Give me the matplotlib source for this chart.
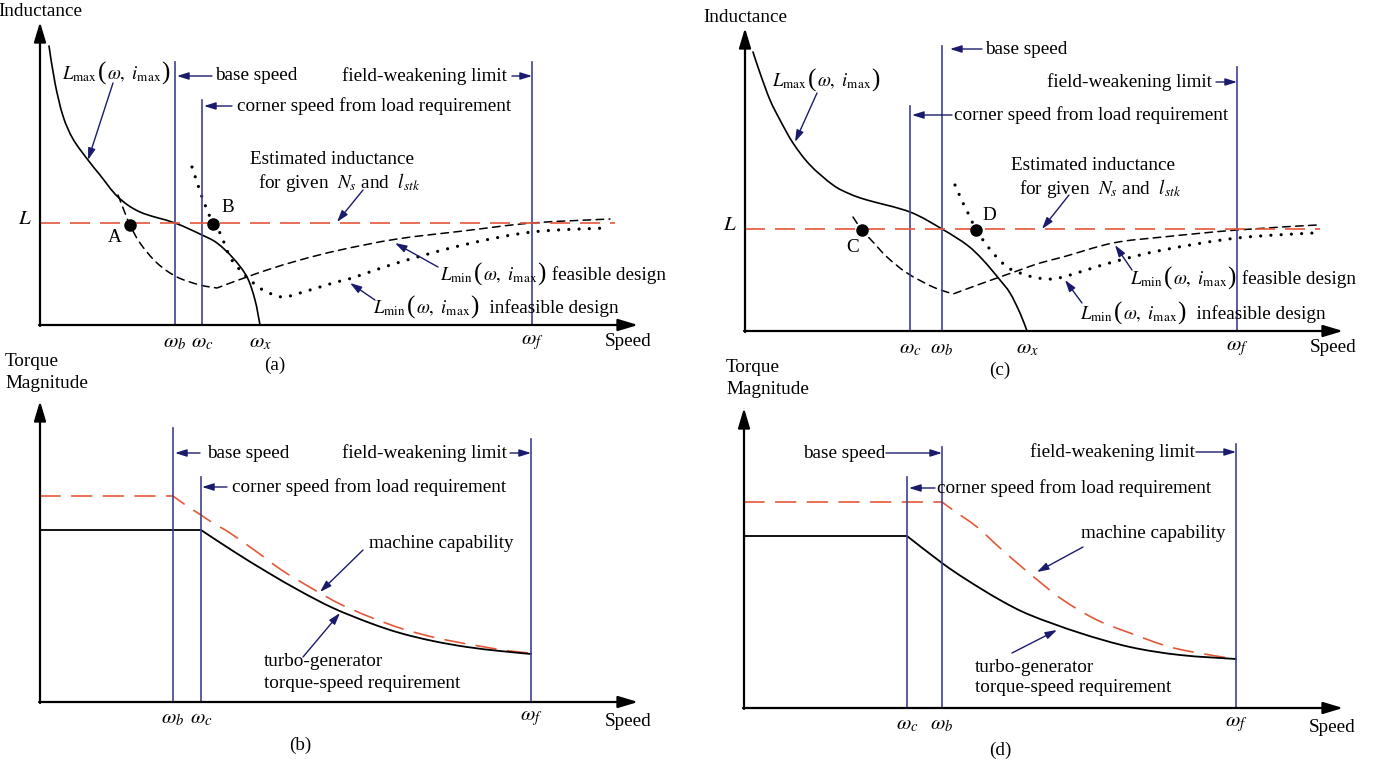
import matplotlib
matplotlib.use("Agg")
import numpy as np
import matplotlib.pyplot as plt
from matplotlib.path import Path
from matplotlib.patches import PathPatch
from matplotlib.offsetbox import TextArea, HPacker, AnnotationBbox

plt.rcParams['font.family'] = ['Liberation Serif', 'DejaVu Serif']
plt.rcParams['mathtext.fontset'] = 'stix'

NAVY = '#1b1b6e'
VLINE = '#3f3f90'
RED = '#e4583a'
FS = 13.8

# ---------- panel (a): inductance, feasible/infeasible (wb < wc) ----------
a_ticks = [135, 162, 220, 492]
a_tick_labels = [r'$\omega_b$', r'$\omega_c$', r'$\omega_x$', r'$\omega_f$']
a_vlines = [135, 162, 492]
a_vtops = [263, 225, 263]
a_L = 102
a_lmax_x = [9, 15, 23, 33, 48, 60, 78, 100, 135, 162, 177, 193, 207, 215, 220]
a_lmax_y = [279, 242, 209, 186, 165, 150, 128, 113, 102, 90, 82, 67, 48, 25, 0]
a_feas_x = [78, 85, 90, 100, 117, 137, 160, 177, 193, 207, 227, 260, 300, 357, 423, 492, 570]
a_feas_y = [130, 112, 100, 82, 62, 48, 40, 37, 43, 48, 55, 65, 75, 86, 94, 102, 106]
a_inf_x = [152, 157, 162, 168, 173, 180, 190, 200, 210, 223, 242, 260, 293, 312, 357, 423, 492, 567]
a_inf_y = [158, 143, 128, 113, 101, 92, 68, 55, 45, 35, 28, 32, 42, 47, 62, 80, 93, 97]
a_pts_x = [90, 173]
a_pts_y = [100, 101]
a_pts_lab = ['A', 'B']

# ---------- panel (c): inductance (wc < wb) ----------
c_ticks = [165, 197, 282, 492]
c_tick_labels = [r'$\omega_c$', r'$\omega_b$', r'$\omega_x$', r'$\omega_f$']
c_vlines = [197, 165, 492]
c_vtops = [285, 225, 264]
c_L = 102
c_lmax_x = [8, 15, 25, 35, 48, 65, 88, 105, 122, 165, 197, 222, 238, 255, 265, 275, 282]
c_lmax_y = [279, 258, 231, 211, 188, 166, 146, 137, 131, 119, 102, 86, 71, 51, 38, 18, 0]
c_feas_x = [108, 117, 128, 142, 162, 188, 208, 238, 272, 295, 318, 368, 418, 492, 572]
c_feas_y = [114, 101, 89, 74, 58, 44, 37, 48, 60, 68, 74, 88, 94, 101, 106]
c_inf_x = [210, 218, 225, 231, 238, 248, 262, 275, 288, 302, 318, 368, 418, 492, 568]
c_inf_y = [146, 128, 114, 101, 91, 78, 64, 58, 54, 52, 54, 69, 81, 93, 98]
c_pts_x = [117, 231]
c_pts_y = [101, 101]
c_pts_lab = ['C', 'D']

# ---------- panel (b): torque (wb < wc) ----------
b_ticks = [133, 161, 491]
b_tick_labels = [r'$\omega_b$', r'$\omega_c$', r'$\omega_f$']
b_vlines = [133, 161, 491]
b_vtops = [274, 225, 263]
b_cap_x = [0, 133, 147, 161, 173, 190, 217, 243, 273, 300, 330, 363, 397, 433, 470, 491]
b_cap_y = [206, 206, 196, 187, 179, 169, 150, 131, 113, 98, 85, 73, 64, 57, 51, 49]
b_req_x = [0, 161, 193, 227, 260, 293, 330, 360, 393, 427, 460, 491]
b_req_y = [172, 172, 151, 130, 111, 94, 79, 69, 61, 55, 51, 48]

# ---------- panel (d): torque (wc < wb) ----------
d_ticks = [163, 198, 492]
d_tick_labels = [r'$\omega_c$', r'$\omega_b$', r'$\omega_f$']
d_vlines = [163, 198, 492]
d_vtops = [231, 261, 264]
d_cap_x = [0, 198, 209, 233, 256, 279, 291, 319, 353, 386, 426, 466, 492]
d_cap_y = [206, 206, 198, 181, 160, 140, 130, 108, 88, 75, 61, 53, 49]
d_req_x = [0, 163, 198, 223, 256, 286, 336, 386, 436, 492]
d_req_y = [172, 172, 145, 128, 108, 93, 75, 61, 53, 49]

W, H = 1380, 766
fig = plt.figure(figsize=(W / 100, H / 100), dpi=100)


def smooth_path(xs, ys, corners=()):
    # Catmull-Rom curve through the read points, broken at sharp corners
    pts = np.column_stack([xs, ys]).astype(float)
    cuts = sorted(set([0, len(pts) - 1, *corners]))
    verts, codes = [pts[0]], [Path.MOVETO]
    for a, b in zip(cuts[:-1], cuts[1:]):
        seg = pts[a:b + 1]
        n = len(seg)
        if n == 2:
            verts.append(seg[1])
            codes.append(Path.LINETO)
            continue
        for i in range(n - 1):
            p0, p1 = seg[max(i - 1, 0)], seg[i]
            p2, p3 = seg[i + 1], seg[min(i + 2, n - 1)]
            verts += [p1 + (p2 - p0) / 6, p2 - (p3 - p1) / 6, p2]
            codes += [Path.CURVE4] * 3
    return Path(verts, codes)


def curve(ax, xs, ys, corners=(), **kw):
    patch = PathPatch(smooth_path(xs, ys, corners), fill=False, capstyle='round',
                      joinstyle='round', clip_on=False, **kw)
    ax.add_patch(patch)


def panel(x0, y0, w, h):
    ax = fig.add_axes([x0 / W, (H - y0) / H, w / W, h / H])
    ax.set_xlim(0, w)
    ax.set_ylim(0, h)
    ax.axis('off')
    arrow = dict(arrowstyle='-|>,head_length=1.0,head_width=0.3', color='k',
                 lw=1.6, mutation_scale=12, shrinkA=0, shrinkB=0)
    ax.annotate('', xy=(0, h), xytext=(0, -1), arrowprops=arrow, annotation_clip=False)
    ax.annotate('', xy=(w, 0), xytext=(-1, 0), arrowprops=arrow, annotation_clip=False)
    return ax


def pointer(ax, tail, head):
    ax.annotate('', xy=head, xytext=tail, annotation_clip=False,
                arrowprops=dict(arrowstyle='-|>,head_length=0.7,head_width=0.22',
                                color=NAVY, lw=1.0, mutation_scale=10,
                                shrinkA=0, shrinkB=0))


def txt(ax, x, y, s, ha='left', size=FS):
    ax.text(x, y, s, ha=ha, va='center', fontsize=size, color='k')


def lfunc(ax, x, y, sub, tail=''):
    # L_sub(omega, i_max) with tall brackets, then optional plain words
    parts = [TextArea(r'$L_{\mathrm{%s}}$' % sub, textprops=dict(fontsize=13.5)),
             TextArea('(', textprops=dict(fontsize=18)),
             TextArea(r'$\omega,\ i_{\mathrm{max}}$', textprops=dict(fontsize=13.5)),
             TextArea(')', textprops=dict(fontsize=18))]
    if tail:
        parts.append(TextArea(tail, textprops=dict(fontsize=FS)))
    box = HPacker(children=parts, align='baseline', pad=0, sep=0.5)
    ab = AnnotationBbox(box, (x, y), xycoords='data', frameon=False,
                        box_alignment=(0, 0.5), pad=0, annotation_clip=False)
    ax.add_artist(ab)


def ticks(ax, pos, labels, ty):
    for p, lab in zip(pos, labels):
        ax.text(p, ty, lab, ha='center', va='center', fontsize=15)


def vlines(ax, xs, tops):
    for x, t in zip(xs, tops):
        ax.plot([x, x], [0, t], color=VLINE, lw=1.2, clip_on=False)


def inductance_panel(ax, d):
    vlines(ax, d['vx'], d['vt'])
    ax.plot([0, 575], [d['L'], d['L']], color=RED, lw=1.2, ls=(0, (12, 6)), clip_on=False)
    curve(ax, d['lmx'], d['lmy'], edgecolor='k', lw=1.2)
    curve(ax, d['fx'], d['fy'], corners=(d['fmin'],), edgecolor='k', lw=1.1,
          ls=(0, (5, 3.5)))
    curve(ax, d['ix'], d['iy'], edgecolor='k', lw=2.3, ls=(0, (0.01, 3.2)))
    ax.plot(d['px'], d['py'], 'o', color='k', ms=8, clip_on=False)
    txt(ax, 0, 313, 'Inductance', ha='center')
    ax.text(-15, d['L'] + 3, r'$L$', ha='center', va='center', fontsize=15)
    ticks(ax, d['tp'], d['tl'], -18)
    txt(ax, 588, -17, 'Speed', ha='center')
    lfunc(ax, d['lmax_lab'][0], d['lmax_lab'][1], 'max')
    lfunc(ax, d['feas_lab'][0], d['feas_lab'][1], 'min', ' feasible design')
    lfunc(ax, d['inf_lab'][0], d['inf_lab'][1], 'min', '  infeasible design')
    txt(ax, d['est'][0], d['est'][1], 'Estimated inductance', ha='center')
    txt(ax, d['est'][0] + 7, d['est'][1] - 23,
        r'for given  $N_s$ and  $l_{stk}$', ha='center')
    for (lx, ly), s in zip(d['plab'], d['pl']):
        txt(ax, lx, ly, s, ha='center')
    for tail, head in d['arrows']:
        pointer(ax, tail, head)


def torque_panel(ax, d):
    vlines(ax, d['vx'], d['vt'])
    curve(ax, d['cx'], d['cy'], corners=(1,), edgecolor=RED, lw=1.2, ls=(0, (12, 7)))
    curve(ax, d['rx'], d['ry'], corners=(1,), edgecolor='k', lw=1.3)
    txt(ax, d['tq'][0], 340, 'Torque')
    txt(ax, d['tq'][0], 318, 'Magnitude')
    ticks(ax, d['tp'], d['tl'], -17)
    txt(ax, 588, -19, 'Speed', ha='center')
    txt(ax, d['mc'][0], d['mc'][1], 'machine capability')
    txt(ax, d['tg'][0], d['tg'][1], 'turbo-generator')
    txt(ax, d['tg'][0], d['tg'][1] - 21, 'torque-speed requirement')
    for tail, head in d['arrows']:
        pointer(ax, tail, head)


# (a)
ax_a = panel(40, 325, 598, 303)
inductance_panel(ax_a, dict(
    vx=a_vlines, vt=a_vtops, L=a_L, lmx=a_lmax_x, lmy=a_lmax_y,
    fx=a_feas_x, fy=a_feas_y, fmin=7, ix=a_inf_x, iy=a_inf_y, px=a_pts_x, py=a_pts_y,
    tp=a_ticks, tl=a_tick_labels, pl=a_pts_lab, plab=[(75, 88), (188, 118)],
    lmax_lab=(22, 252), feas_lab=(400, 51), inf_lab=(333, 18), est=(292, 165),
    arrows=[((73, 242), (48, 165)), ((172, 249), (137, 249)),
            ((192, 219), (164, 219)), ((472, 249), (492, 249)),
            ((323, 135), (297, 103)), ((398, 58), (355, 82)),
            ((335, 25), (310, 42))]))
txt(ax_a, 175, 249, 'base speed')
txt(ax_a, 197, 219, 'corner speed from load requirement')
txt(ax_a, 467, 249, 'field-weakening limit', ha='right')
txt(ax_a, 235, -40, '(a)', ha='center')

# (c)
ax_c = panel(745, 331, 598, 303)
inductance_panel(ax_c, dict(
    vx=c_vlines, vt=c_vtops, L=c_L, lmx=c_lmax_x, lmy=c_lmax_y,
    fx=c_feas_x, fy=c_feas_y, fmin=6, ix=c_inf_x, iy=c_inf_y, px=c_pts_x, py=c_pts_y,
    tp=c_ticks, tl=c_tick_labels, pl=c_pts_lab, plab=[(108, 83), (244, 115)],
    lmax_lab=(27, 251), feas_lab=(385, 53), inf_lab=(335, 18), est=(348, 166),
    arrows=[((72, 238), (50, 189)), ((237, 282), (205, 282)),
            ((207, 216), (167, 216)), ((471, 249), (492, 249)),
            ((324, 136), (297, 102)), ((387, 61), (370, 86)),
            ((337, 28), (320, 51))]))
txt(ax_c, 240, 282, 'base speed')
txt(ax_c, 209, 216, 'corner speed from load requirement')
txt(ax_c, 467, 249, 'field-weakening limit', ha='right')
txt(ax_c, 255, -39, '(c)', ha='center')

# (b)
ax_b = panel(40, 702, 598, 301)
torque_panel(ax_b, dict(
    vx=b_vlines, vt=b_vtops, cx=b_cap_x, cy=b_cap_y, rx=b_req_x, ry=b_req_y,
    tp=b_ticks, tl=b_tick_labels, tq=(-35,), mc=(329, 159), tg=(224, 40),
    arrows=[((160, 249), (135, 249)), ((187, 215), (162, 215)),
            ((470, 249), (491, 249)), ((323, 152), (280, 110)),
            ((263, 45), (300, 89))]))
txt(ax_b, 167, 249, 'base speed')
txt(ax_b, 192, 215, 'corner speed from load requirement')
txt(ax_b, 467, 249, 'field-weakening limit', ha='right')
txt(ax_b, 260, -43, '(b)', ha='center')

# (d)
ax_d = panel(744, 708, 599, 300)
torque_panel(ax_d, dict(
    vx=d_vlines, vt=d_vtops, cx=d_cap_x, cy=d_cap_y, rx=d_req_x, ry=d_req_y,
    tp=d_ticks, tl=d_tick_labels, tq=(-18,), mc=(337, 174), tg=(231, 41),
    arrows=[((142, 255), (198, 255)), ((191, 220), (165, 220)),
            ((452, 256), (492, 256)), ((339, 161), (293, 136)),
            ((268, 55), (313, 78))]))
txt(ax_d, 141, 255, 'base speed', ha='right')
txt(ax_d, 193, 220, 'corner speed from load requirement')
txt(ax_d, 451, 256, 'field-weakening limit', ha='right')
txt(ax_d, 256, -42, '(d)', ha='center')

fig.savefig('out.png', dpi=100, facecolor='white')
